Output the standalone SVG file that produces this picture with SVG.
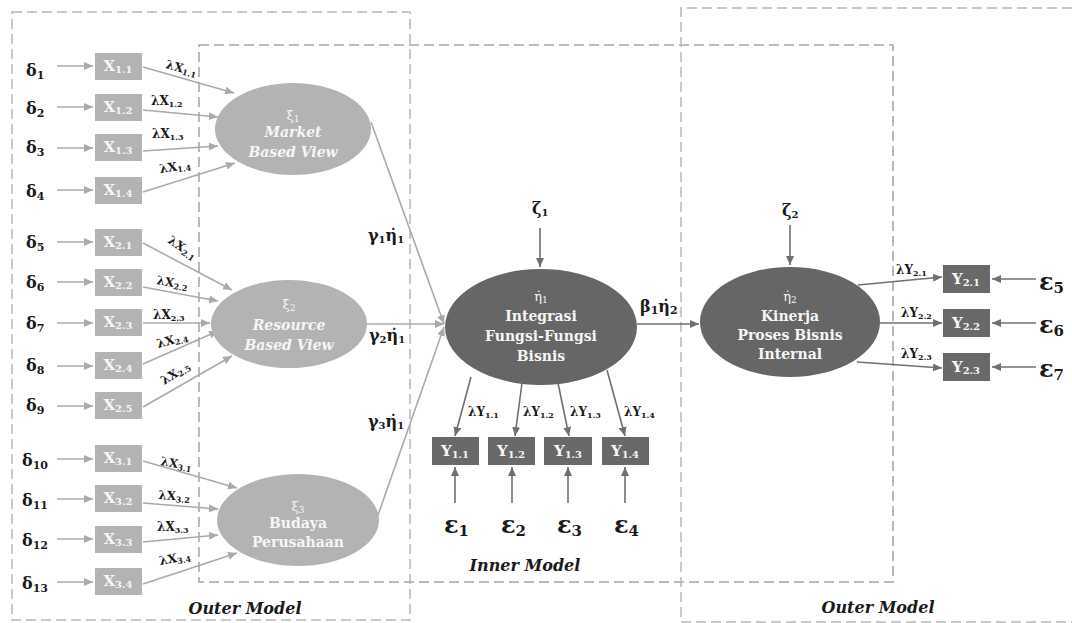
<svg xmlns="http://www.w3.org/2000/svg" width="1072" height="623" viewBox="0 0 1072 623">
<style>
.dash{fill:none;stroke:#b8b8b8;stroke-width:1.5;stroke-dasharray:10 5}
.dash2{fill:none;stroke:#a8a8a8;stroke-width:1.6;stroke-dasharray:10 5}
.la{stroke:#aaaaaa;stroke-width:1.6;fill:none;marker-end:url(#ahl)}
.da{stroke:#707070;stroke-width:1.6;fill:none;marker-end:url(#ahd)}
.xb{fill:#b3b3b3}
.yb{fill:#696969}
.le{fill:#b3b3b3}
.de{fill:#666666}
.wt{font-family:"DejaVu Serif",serif;font-weight:bold;fill:#f6f6f6;text-anchor:middle}
.wi{font-family:"DejaVu Serif",serif;font-weight:bold;font-style:italic;fill:#f6f6f6;text-anchor:middle;font-size:14px}
.bt{font-family:"DejaVu Serif",serif;font-weight:bold;fill:#f6f6f6;text-anchor:middle;font-size:14px}
.gr{font-family:"DejaVu Serif",serif;fill:#f6f6f6;text-anchor:middle;font-size:13px}
.dl{font-family:"DejaVu Serif",serif;font-weight:bold;fill:#1a1a1a;font-size:16px}
.lm{font-family:"DejaVu Serif",serif;font-weight:bold;fill:#1a1a1a;font-size:12px}
.ep{font-family:"DejaVu Serif",serif;font-weight:bold;fill:#1a1a1a;font-size:24px}
.md{font-family:"DejaVu Serif",serif;font-weight:bold;font-style:italic;fill:#1a1a1a;font-size:16px;text-anchor:middle}
.bx{font-family:"DejaVu Serif",serif;font-weight:bold;fill:#f6f6f6;font-size:15px;text-anchor:middle}
</style>
<defs>
<marker id="ahl" markerUnits="userSpaceOnUse" markerWidth="9" markerHeight="8" refX="9" refY="4" orient="auto"><path d="M0,0 L9,4 L0,8 z" fill="#aaaaaa"/></marker>
<marker id="ahd" markerUnits="userSpaceOnUse" markerWidth="9" markerHeight="8" refX="9" refY="4" orient="auto"><path d="M0,0 L9,4 L0,8 z" fill="#707070"/></marker>
</defs>
<rect width="1072" height="623" fill="#ffffff"/>
<g id="frames">
<rect class="dash" x="12" y="12" width="398" height="608"/>
<rect class="dash2" x="199" y="45" width="694" height="537"/>
<path class="dash" d="M1072,8 H681 V622 H1072"/>
</g>
<g id="connectors">
<line class="la" x1="57" y1="66" x2="93" y2="66"/>
<line class="la" x1="57" y1="107" x2="93" y2="107"/>
<line class="la" x1="57" y1="148" x2="93" y2="148"/>
<line class="la" x1="57" y1="190" x2="93" y2="190"/>
<line class="la" x1="57" y1="242" x2="93" y2="242"/>
<line class="la" x1="57" y1="282" x2="93" y2="282"/>
<line class="la" x1="57" y1="323" x2="93" y2="323"/>
<line class="la" x1="57" y1="366" x2="93" y2="366"/>
<line class="la" x1="57" y1="406" x2="93" y2="406"/>
<line class="la" x1="57" y1="459" x2="93" y2="459"/>
<line class="la" x1="57" y1="499" x2="93" y2="499"/>
<line class="la" x1="57" y1="539" x2="93" y2="539"/>
<line class="la" x1="57" y1="582" x2="93" y2="582"/>
<line class="la" x1="143" y1="67" x2="234" y2="93"/>
<line class="la" x1="143" y1="110" x2="218" y2="117"/>
<line class="la" x1="143" y1="151" x2="218" y2="146"/>
<line class="la" x1="143" y1="192" x2="235" y2="163"/>
<line class="la" x1="143" y1="243" x2="232" y2="290"/>
<line class="la" x1="143" y1="287" x2="218" y2="301"/>
<line class="la" x1="143" y1="323" x2="210" y2="323"/>
<line class="la" x1="143" y1="364" x2="218" y2="331"/>
<line class="la" x1="143" y1="407" x2="232" y2="356"/>
<line class="la" x1="143" y1="461" x2="237" y2="488"/>
<line class="la" x1="143" y1="503" x2="218" y2="509"/>
<line class="la" x1="143" y1="542" x2="218" y2="535"/>
<line class="la" x1="143" y1="584" x2="237" y2="553"/>
<line class="la" x1="371" y1="122" x2="444" y2="324"/>
<line class="la" x1="367" y1="324" x2="444" y2="324"/>
<line class="la" x1="377" y1="518" x2="444" y2="327"/>
<line class="da" x1="540" y1="228" x2="540" y2="267"/>
<line class="da" x1="790" y1="225" x2="790" y2="265"/>
<line class="da" x1="637" y1="324" x2="699" y2="324"/>
<line class="da" x1="471" y1="377" x2="455" y2="436"/>
<line class="da" x1="522" y1="383" x2="515" y2="436"/>
<line class="da" x1="558" y1="383" x2="569" y2="436"/>
<line class="da" x1="607" y1="370" x2="625" y2="436"/>
<line class="da" x1="455" y1="503" x2="455" y2="467"/>
<line class="da" x1="512" y1="503" x2="512" y2="467"/>
<line class="da" x1="568" y1="503" x2="568" y2="467"/>
<line class="da" x1="625" y1="503" x2="625" y2="467"/>
<line class="da" x1="858" y1="285" x2="942" y2="277"/>
<line class="da" x1="880" y1="323" x2="942" y2="323"/>
<line class="da" x1="857" y1="362" x2="942" y2="368"/>
<line class="da" x1="1036" y1="279" x2="992" y2="279"/>
<line class="da" x1="1036" y1="323" x2="992" y2="323"/>
<line class="da" x1="1036" y1="367" x2="992" y2="367"/>
</g>
<g id="deltas">
<text class="dl" x="26" y="76">δ<tspan font-size="11" dy="3">1</tspan></text>
<text class="dl" x="26" y="114">δ<tspan font-size="11" dy="3">2</tspan></text>
<text class="dl" x="26" y="153">δ<tspan font-size="11" dy="3">3</tspan></text>
<text class="dl" x="26" y="197">δ<tspan font-size="11" dy="3">4</tspan></text>
<text class="dl" x="26" y="248">δ<tspan font-size="11" dy="3">5</tspan></text>
<text class="dl" x="26" y="288">δ<tspan font-size="11" dy="3">6</tspan></text>
<text class="dl" x="26" y="329">δ<tspan font-size="11" dy="3">7</tspan></text>
<text class="dl" x="26" y="371">δ<tspan font-size="11" dy="3">8</tspan></text>
<text class="dl" x="26" y="411">δ<tspan font-size="11" dy="3">9</tspan></text>
<text class="dl" x="22" y="466">δ<tspan font-size="11" dy="3">10</tspan></text>
<text class="dl" x="22" y="506">δ<tspan font-size="11" dy="3">11</tspan></text>
<text class="dl" x="22" y="546">δ<tspan font-size="11" dy="3">12</tspan></text>
<text class="dl" x="22" y="589">δ<tspan font-size="11" dy="3">13</tspan></text>
</g>
<g id="x-indicators">
<rect class="xb" x="95" y="53" width="47" height="27"/><text class="bx" x="118" y="71">X<tspan font-size="10" dy="2">1.1</tspan></text>
<rect class="xb" x="95" y="94" width="47" height="27"/><text class="bx" x="118" y="112">X<tspan font-size="10" dy="2">1.2</tspan></text>
<rect class="xb" x="95" y="134" width="47" height="27"/><text class="bx" x="118" y="152">X<tspan font-size="10" dy="2">1.3</tspan></text>
<rect class="xb" x="95" y="177" width="47" height="27"/><text class="bx" x="118" y="195">X<tspan font-size="10" dy="2">1.4</tspan></text>
<rect class="xb" x="95" y="229" width="47" height="27"/><text class="bx" x="118" y="247">X<tspan font-size="10" dy="2">2.1</tspan></text>
<rect class="xb" x="95" y="269" width="47" height="27"/><text class="bx" x="118" y="287">X<tspan font-size="10" dy="2">2.2</tspan></text>
<rect class="xb" x="95" y="309" width="47" height="27"/><text class="bx" x="118" y="327">X<tspan font-size="10" dy="2">2.3</tspan></text>
<rect class="xb" x="95" y="352" width="47" height="27"/><text class="bx" x="118" y="370">X<tspan font-size="10" dy="2">2.4</tspan></text>
<rect class="xb" x="95" y="392" width="47" height="27"/><text class="bx" x="118" y="410">X<tspan font-size="10" dy="2">2.5</tspan></text>
<rect class="xb" x="95" y="445" width="47" height="27"/><text class="bx" x="118" y="463">X<tspan font-size="10" dy="2">3.1</tspan></text>
<rect class="xb" x="95" y="485" width="47" height="27"/><text class="bx" x="118" y="503">X<tspan font-size="10" dy="2">3.2</tspan></text>
<rect class="xb" x="95" y="526" width="47" height="27"/><text class="bx" x="118" y="544">X<tspan font-size="10" dy="2">3.3</tspan></text>
<rect class="xb" x="95" y="568" width="47" height="27"/><text class="bx" x="118" y="586">X<tspan font-size="10" dy="2">3.4</tspan></text>
</g>
<g id="x-loadings">
<text class="lm" transform="translate(165,68) rotate(15)">λX<tspan font-size="8" dy="2">1.1</tspan></text>
<text class="lm" x="151" y="105">λX<tspan font-size="8" dy="2">1.2</tspan></text>
<text class="lm" x="152" y="138">λX<tspan font-size="8" dy="2">1.3</tspan></text>
<text class="lm" transform="translate(160,173) rotate(-8)">λX<tspan font-size="8" dy="2">1.4</tspan></text>
<text class="lm" transform="translate(167,242) rotate(35)">λX<tspan font-size="8" dy="2">2.1</tspan></text>
<text class="lm" transform="translate(156,284) rotate(10)">λX<tspan font-size="8" dy="2">2.2</tspan></text>
<text class="lm" x="153" y="319">λX<tspan font-size="8" dy="2">2.3</tspan></text>
<text class="lm" transform="translate(158,348) rotate(-15)">λX<tspan font-size="8" dy="2">2.4</tspan></text>
<text class="lm" transform="translate(164,385) rotate(-32)">λX<tspan font-size="8" dy="2">2.5</tspan></text>
<text class="lm" transform="translate(160,465) rotate(10)">λX<tspan font-size="8" dy="2">3.1</tspan></text>
<text class="lm" transform="translate(158,499) rotate(4)">λX<tspan font-size="8" dy="2">3.2</tspan></text>
<text class="lm" x="157" y="531">λX<tspan font-size="8" dy="2">3.3</tspan></text>
<text class="lm" transform="translate(160,565) rotate(-10)">λX<tspan font-size="8" dy="2">3.4</tspan></text>
</g>
<g id="xi1">
<ellipse class="le" cx="293" cy="129" rx="78" ry="46"/>
<text class="gr" x="293" y="120">ξ<tspan font-size="9" dy="2">1</tspan></text>
<text class="wi" x="293" y="137">Market</text>
<text class="wi" x="293" y="157">Based View</text>
</g>
<g id="xi2">
<ellipse class="le" cx="289" cy="324" rx="78" ry="44"/>
<text class="gr" x="289" y="309">ξ<tspan font-size="9" dy="2">2</tspan></text>
<text class="wi" x="289" y="330">Resource</text>
<text class="wi" x="289" y="350">Based View</text>
</g>
<g id="xi3">
<ellipse class="le" cx="298" cy="520" rx="81" ry="46"/>
<text class="gr" x="298" y="511">ξ<tspan font-size="9" dy="2">3</tspan></text>
<text class="bt" x="298" y="528">Budaya</text>
<text class="bt" x="298" y="547">Perusahaan</text>
</g>
<g id="gammas">
<text class="dl" x="368" y="241" font-size="15">γ<tspan font-size="10" dy="2">1</tspan><tspan dy="-2">η̇</tspan><tspan font-size="10" dy="2">1</tspan></text>
<text class="dl" x="369" y="341" font-size="15">γ<tspan font-size="10" dy="2">2</tspan><tspan dy="-2">η̇</tspan><tspan font-size="10" dy="2">1</tspan></text>
<text class="dl" x="368" y="427" font-size="15">γ<tspan font-size="10" dy="2">3</tspan><tspan dy="-2">η̇</tspan><tspan font-size="10" dy="2">1</tspan></text>
</g>
<g id="eta1">
<ellipse class="de" cx="541" cy="327" rx="96" ry="58"/>
<text class="gr" x="541" y="301">η̇<tspan font-size="9" dy="2">1</tspan></text>
<text class="bt" x="541" y="321">Integrasi</text>
<text class="bt" x="541" y="341">Fungsi-Fungsi</text>
<text class="bt" x="541" y="361">Bisnis</text>
</g>
<g id="zeta1"><text class="dl" x="532" y="214" font-size="15">ζ<tspan font-size="10" dy="2">1</tspan></text></g>
<g id="beta"><text class="dl" x="640" y="312">β<tspan font-size="11" dy="2">1</tspan><tspan dy="-2">η̇</tspan><tspan font-size="11" dy="2">2</tspan></text></g>
<g id="y1-indicators">
<rect class="yb" x="432" y="437" width="47" height="28"/><text class="bx" x="455" y="456">Y<tspan font-size="10" dy="2">1.1</tspan></text>
<rect class="yb" x="488" y="437" width="47" height="28"/><text class="bx" x="511" y="456">Y<tspan font-size="10" dy="2">1.2</tspan></text>
<rect class="yb" x="544" y="437" width="48" height="28"/><text class="bx" x="568" y="456">Y<tspan font-size="10" dy="2">1.3</tspan></text>
<rect class="yb" x="602" y="437" width="47" height="28"/><text class="bx" x="625" y="456">Y<tspan font-size="10" dy="2">1.4</tspan></text>
</g>
<g id="y1-loadings">
<text class="lm" x="468" y="416">λY<tspan font-size="8" dy="2">1.1</tspan></text>
<text class="lm" x="523" y="416">λY<tspan font-size="8" dy="2">1.2</tspan></text>
<text class="lm" x="570" y="416">λY<tspan font-size="8" dy="2">1.3</tspan></text>
<text class="lm" x="624" y="416">λY<tspan font-size="8" dy="2">1.4</tspan></text>
</g>
<g id="epsilons1">
<text class="ep" x="444" y="533">ε<tspan font-size="15" dy="3">1</tspan></text>
<text class="ep" x="501" y="533">ε<tspan font-size="15" dy="3">2</tspan></text>
<text class="ep" x="557" y="533">ε<tspan font-size="15" dy="3">3</tspan></text>
<text class="ep" x="614" y="533">ε<tspan font-size="15" dy="3">4</tspan></text>
</g>
<g id="eta2">
<ellipse class="de" cx="790" cy="322" rx="90" ry="55"/>
<text class="gr" x="790" y="301">η̇<tspan font-size="9" dy="2">2</tspan></text>
<text class="bt" x="790" y="321">Kinerja</text>
<text class="bt" x="790" y="340">Proses Bisnis</text>
<text class="bt" x="790" y="359">Internal</text>
</g>
<g id="zeta2"><text class="dl" x="782" y="216" font-size="15">ζ<tspan font-size="10" dy="2">2</tspan></text></g>
<g id="y2-indicators">
<rect class="yb" x="943" y="265" width="47" height="28"/><text class="bx" x="966" y="284">Y<tspan font-size="10" dy="2">2.1</tspan></text>
<rect class="yb" x="943" y="309" width="47" height="28"/><text class="bx" x="966" y="328">Y<tspan font-size="10" dy="2">2.2</tspan></text>
<rect class="yb" x="943" y="353" width="47" height="28"/><text class="bx" x="966" y="372">Y<tspan font-size="10" dy="2">2.3</tspan></text>
</g>
<g id="y2-loadings">
<text class="lm" x="896" y="274">λY<tspan font-size="8" dy="2">2.1</tspan></text>
<text class="lm" x="901" y="317">λY<tspan font-size="8" dy="2">2.2</tspan></text>
<text class="lm" x="901" y="358">λY<tspan font-size="8" dy="2">2.3</tspan></text>
</g>
<g id="epsilons2">
<text class="ep" x="1039" y="290">ε<tspan font-size="15" dy="3">5</tspan></text>
<text class="ep" x="1039" y="333">ε<tspan font-size="15" dy="3">6</tspan></text>
<text class="ep" x="1039" y="377">ε<tspan font-size="15" dy="3">7</tspan></text>
</g>
<g id="titles">
<text class="md" x="245" y="614">Outer Model</text>
<text class="md" x="525" y="571">Inner Model</text>
<text class="md" x="878" y="613">Outer Model</text>
</g>
</svg>
